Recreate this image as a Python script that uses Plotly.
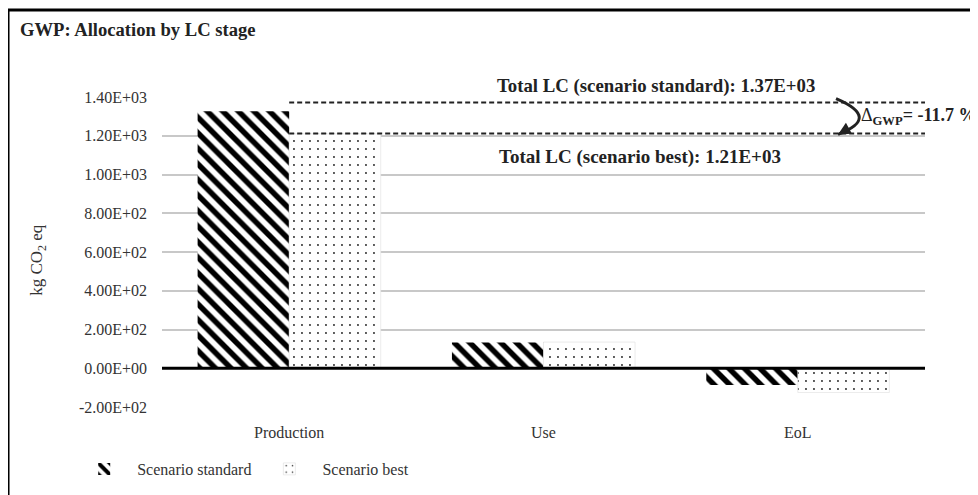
import plotly.graph_objects as go

categories = ["Production", "Use", "EoL"]
scenario_standard = [1327, 133, -86]
scenario_best = [1210, 135, -125]
total_standard = 1372
total_best = 1212
tick_vals = [-200, 0, 200, 400, 600, 800, 1000, 1200, 1400]
tick_text = ["-2.00E+02", "0.00E+00", "2.00E+02", "4.00E+02", "6.00E+02",
             "8.00E+02", "1.00E+03", "1.20E+03", "1.40E+03"]

delta = (total_best / total_standard - 1) * 100
FONT = "Liberation Serif"

fig = go.Figure()
fig.add_trace(go.Bar(
    x=categories, y=scenario_standard, name="Scenario standard",
    marker=dict(color="white", line=dict(width=0),
                pattern=dict(shape="\\", fgcolor="black", bgcolor="white",
                             fgopacity=1, fillmode="replace",
                             size=11, solidity=0.5)),
))
fig.add_trace(go.Bar(
    x=categories, y=scenario_best, name="Scenario best",
    marker=dict(color="white", line=dict(width=0.6, color="#dddddd"),
                pattern=dict(shape=".", fgcolor="#222222", bgcolor="white",
                             fgopacity=1, fillmode="replace",
                             size=8, solidity=0.045)),
))

shapes = [
    # figure border
    dict(type="rect", xref="paper", yref="paper", x0=-0.2018, x1=1.2,
         y0=-0.6, y1=1.2806, line=dict(color="black", width=3),
         fillcolor="rgba(0,0,0,0)", layer="above"),
    # zero line
    dict(type="line", xref="paper", yref="y", x0=0, x1=1, y0=0, y1=0,
         line=dict(color="black", width=3), layer="above"),
    # total lines
    dict(type="line", xref="x", yref="y", x0=0, x1=2.5,
         y0=total_standard, y1=total_standard,
         line=dict(color="#222222", width=2, dash="5px,3px"), layer="above"),
    dict(type="line", xref="x", yref="y", x0=0, x1=2.5,
         y0=total_best, y1=total_best,
         line=dict(color="#222222", width=2, dash="5px,3px"), layer="above"),
    # curved arrow
    dict(type="path", xref="paper", yref="y",
         path="M 0.8834,%f Q 0.943,%f 0.886,%f" % (total_standard + 20,
                                                   (total_standard + total_best) / 2,
                                                   total_best - 5),
         line=dict(color="#222222", width=3), layer="above"),
]

annotations = [
    dict(text="<b>GWP: Allocation by LC stage</b>", xref="paper", yref="paper",
         x=-0.189, y=1.2175, xanchor="left", yanchor="middle", showarrow=False,
         font=dict(family=FONT, size=18.6, color="#222222")),
    dict(text="kg CO<sub>2</sub> eq", xref="paper", yref="paper",
         x=-0.1625, y=0.475, textangle=-90, xanchor="center", yanchor="middle",
         showarrow=False, font=dict(family=FONT, size=17, color="#333333")),
    dict(text="<b>Total LC (scenario standard): %.2E</b>" % total_standard,
         xref="paper", yref="paper", x=0.647, y=1.035,
         xanchor="center", yanchor="middle", showarrow=False,
         font=dict(family=FONT, size=18.8, color="#222222")),
    dict(text="<b>Total LC (scenario best): %.2E</b>" % total_best,
         xref="paper", yref="y", x=0.626, y=total_best - 120,
         xanchor="center", yanchor="middle", showarrow=False,
         font=dict(family=FONT, size=19, color="#222222")),
    dict(text="Δ<sub><b>GWP</b></sub><b>= %.1f %%</b>" % delta,
         xref="paper", yref="y", x=0.914, y=(total_standard + total_best) / 2 + 5,
         xanchor="left", yanchor="middle", showarrow=False,
         font=dict(family=FONT, size=18, color="#222222")),
    dict(text="", xref="paper", yref="y", x=0.886, y=total_best - 5,
         ax=9, ay=-5, showarrow=True, arrowhead=2, arrowsize=1,
         arrowwidth=2.5, arrowcolor="#222222"),
]

fig.update_layout(
    width=970, height=487,
    margin=dict(l=154, r=53, t=89, b=88, autoexpand=False),
    paper_bgcolor="white", plot_bgcolor="white",
    barmode="group", bargap=0.28, bargroupgap=0,
    font=dict(family=FONT, size=16, color="#333333"),
    shapes=shapes, annotations=annotations,
    showlegend=True,
    legend=dict(orientation="h", x=-0.119, y=-0.2, xanchor="left",
                yanchor="middle", font=dict(family=FONT, size=16, color="#333333"),
                itemwidth=56),
    xaxis=dict(showgrid=False, showline=False, ticks="", ticklabelstandoff=14,
               range=[-0.5, 2.5], tickfont=dict(family=FONT, size=16, color="#333333")),
    yaxis=dict(range=[-200, 1400], tickvals=tick_vals, ticktext=tick_text,
               showgrid=True, gridcolor="#c8c8c8", gridwidth=2,
               zeroline=False, showline=False, ticks="", ticklabelstandoff=14,
               tickfont=dict(family=FONT, size=16, color="#333333")),
)

fig.write_html("out.html")
